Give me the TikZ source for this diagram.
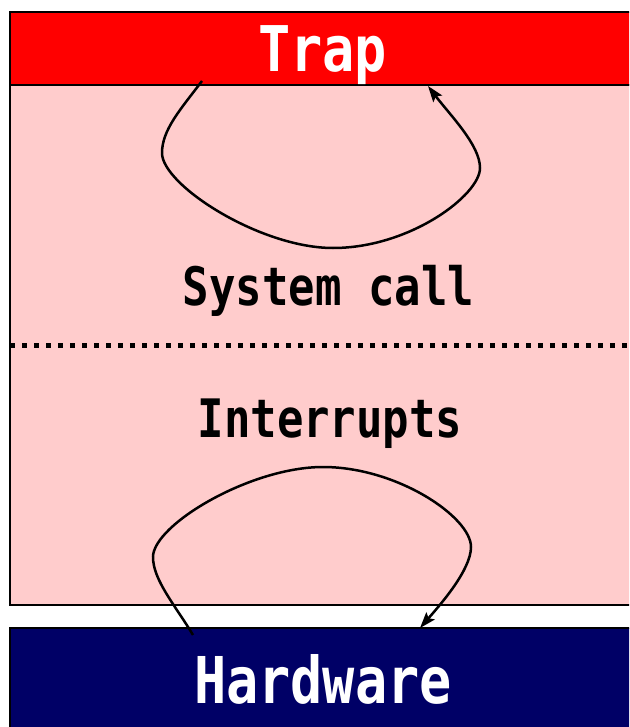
\documentclass[tikz,border=0pt]{standalone}
\usepackage{fontspec}
\usepackage{graphicx}
\setmonofont{DejaVu Sans Mono}
\usetikzlibrary{arrows.meta}
\definecolor{trapred}{RGB}{255,0,0}
\definecolor{pinkfill}{RGB}{255,204,204}
\definecolor{hwnavy}{RGB}{0,0,102}
\tikzset{
  band/.style={draw=black, line width=2pt},
  loopline/.style={draw=black, line width=2.5pt, -{Stealth[length=16pt,width=11pt,inset=3pt]}},
  sep/.style={draw=black, line width=5pt, dash pattern=on 5pt off 7pt},
  whitetext/.style={text=white, inner sep=0pt, anchor=base},
  blacktext/.style={text=black, inner sep=0pt, anchor=base}
}
\begin{document}
\begin{tikzpicture}[x=1pt,y=-1pt]
\useasboundingbox (0,0) rectangle (629,727);
\clip (0,0) rectangle (629,727);
% boxes
\path[band, fill=pinkfill] (10,85) rectangle (660,605);
\path[band, fill=trapred] (10,12) rectangle (660,85);
\path[band, fill=hwnavy] (10,628) rectangle (660,760);
% separator
\coordinate (sepL) at (10,345);
\coordinate (sepR) at (640,345);
\draw[sep] (sepL) -- (sepR);
% texts
\node[whitetext] (trap) at (322.5,71.5) {\scalebox{0.85}[1]{\fontsize{63}{63}\selectfont\ttfamily\bfseries Trap}};
\node[whitetext] (hw) at (323,703.5) {\scalebox{0.83}[1]{\fontsize{64.5}{64.5}\selectfont\ttfamily\bfseries Hardware}};
\node[blacktext] (sys) at (328.5,305) {\scalebox{0.83}[1]{\fontsize{53}{53}\selectfont\ttfamily\bfseries System call}};
\node[blacktext] (intr) at (330,437) {\scalebox{0.83}[1]{\fontsize{53}{53}\selectfont\ttfamily\bfseries Interrupts}};
% loops
\coordinate (t0) at (202,81);
\coordinate (t1) at (428,86);
\coordinate (b0) at (193,635);
\coordinate (b1) at (420,628);
\draw[loopline] (t0) .. controls (180,110) and (162,130) .. (162,153)
  .. controls (162,185) and (260,248) .. (333,248)
  .. controls (410,248) and (480,195) .. (480,168)
  .. controls (480,145) and (450,115) .. (t1);
\draw[loopline] (b0) .. controls (175,605) and (153,580) .. (153,557)
  .. controls (153,525) and (250,467) .. (323,467)
  .. controls (397,467) and (471,517) .. (471,547)
  .. controls (471,570) and (440,605) .. (b1);
\end{tikzpicture}
\end{document}
